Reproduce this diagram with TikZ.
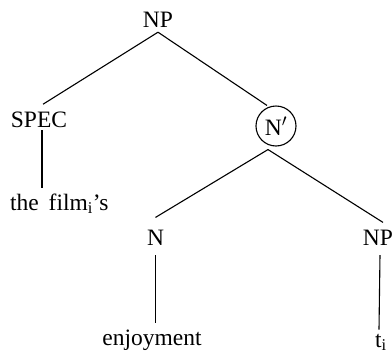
\documentclass[tikz,border=0pt]{standalone}
\usepackage{fontspec}
\setmainfont{Liberation Serif}
\usetikzlibrary{calc}
\begin{document}
\begin{tikzpicture}[x=1pt,y=-1pt,
  lab/.style={inner sep=0pt,font=\fontsize{23.5}{28}\selectfont},
  circ/.style={draw,circle,line width=1.1pt,minimum size=40pt,inner sep=0pt,font=\fontsize{23.5}{28}\selectfont},
  edge/.style={line width=1.1pt}]
\useasboundingbox (0,0) rectangle (392,354);
\node[lab,anchor=base] (np) at (158,27) {NP};
\node[lab,anchor=base] (spec) at (39,127) {SPEC};
\node[circ] (nbar) at (276,126) {N$'$};
\node[lab,anchor=base west] (film) at (10,210) {the\ \,film\textsubscript{i}’s};
\node[lab,anchor=base] (nn) at (155.5,245) {N};
\node[lab,anchor=base] (np2) at (378,245) {NP};
\node[lab,anchor=base] (enjoy) at (152,345) {enjoyment};
\node[lab,anchor=base] (trace) at (381,347) {t\textsubscript{i}};
\coordinate (apex) at ($(nbar.south)+(-8,3)$);
\draw[edge] ($(np.south)+(0,5)$) -- ($(spec.north)+(4,-7)$);
\draw[edge] ($(np.south)+(0,5)$) -- ($(nbar.north)+(-9,0)$);
\draw[edge] ($(spec.south)+(3,3)$) -- ($(spec.south |- film.north)+(3,-5)$);
\draw[edge] (apex) -- ($(nn.north)+(0,-12)$);
\draw[edge] (apex) -- ($(np2.north)+(5,-7)$);
\draw[edge] ($(nn.south)+(0,10)$) -- ($(nn.south |- enjoy.north)+(0,-6)$);
\draw[edge] ($(np2.south)+(2,10)$) -- ($(np2.south |- trace.north)+(1,-4)$);
\end{tikzpicture}
\end{document}
